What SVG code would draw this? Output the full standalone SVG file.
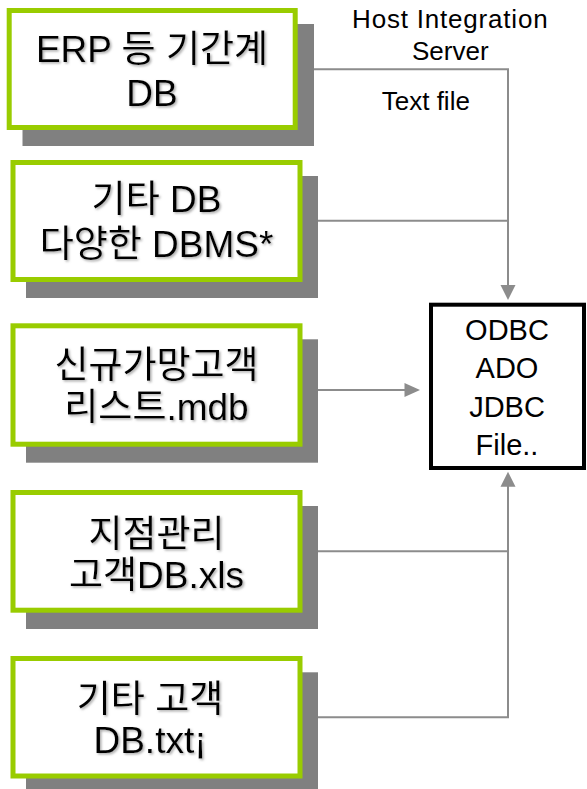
<svg xmlns="http://www.w3.org/2000/svg" width="587" height="789" viewBox="0 0 587 789">
<style>
.shadow{fill:#808080}
.box{fill:#fff;stroke:#99cc00;stroke-width:5}
.bt{font-family:"Liberation Sans","Noto Sans CJK KR",sans-serif;font-size:37px;fill:#000;text-anchor:middle;filter:url(#ts)}
.lbl{font-family:"Liberation Sans","Noto Sans CJK KR",sans-serif;font-size:26px;fill:#000;text-anchor:middle}
.odbc{font-family:"Liberation Sans",sans-serif;font-size:29px;fill:#000;text-anchor:middle}
.conn{fill:none;stroke:#8c8c8c;stroke-width:2}
.ah{fill:#8c8c8c}
</style>
<defs>
<filter id="ts" x="-10%" y="-20%" width="120%" height="140%">
<feDropShadow dx="1.5" dy="1.5" stdDeviation="0.8" flood-color="#888" flood-opacity="0.7"/>
</filter>
</defs>
<rect width="587" height="789" fill="#fff"/>
<g id="connectors">
<polyline class="conn" points="300,69.3 508,69.3 508,288"/>
<line class="conn" x1="300" y1="220.7" x2="508" y2="220.7"/>
<line class="conn" x1="300" y1="390" x2="408" y2="390"/>
<polyline class="conn" points="300,551.3 508,551.3"/>
<polyline class="conn" points="300,717.3 508,717.3 508,484"/>
<polygon class="ah" points="500.5,285 515.5,285 508,300"/>
<polygon class="ah" points="404.5,383 404.5,397 420,390"/>
<polygon class="ah" points="500.5,486.7 515.5,486.7 508,471.7"/>
</g>
<g id="node-erp">
<rect class="shadow" x="22.5" y="24" width="291.5" height="122"/>
<rect class="box" x="9.2" y="10.5" width="286" height="117"/>
<text class="bt" x="152" y="61.7">ERP 등 기간계</text>
<text class="bt" x="152" y="106">DB</text>
</g>
<g id="node-etc-db">
<rect class="shadow" x="26" y="176" width="292" height="122"/>
<rect class="box" x="13" y="162.5" width="287" height="117"/>
<text class="bt" x="156.5" y="211.7">기타 DB</text>
<text class="bt" x="156.5" y="256.7">다양한 DBMS*</text>
</g>
<g id="node-mdb">
<rect class="shadow" x="26" y="339.3" width="292" height="123.4"/>
<rect class="box" x="13" y="325.8" width="287" height="118.4"/>
<text class="bt" x="156.5" y="378">신규가망고객</text>
<text class="bt" x="156.5" y="420">리스트.mdb</text>
</g>
<g id="node-xls">
<rect class="shadow" x="26" y="506" width="292" height="123"/>
<rect class="box" x="13" y="492.5" width="287" height="117.7"/>
<text class="bt" x="156.5" y="546.7">지점관리</text>
<text class="bt" x="156.5" y="588.3">고객DB.xls</text>
</g>
<g id="node-txt">
<rect class="shadow" x="26" y="672.3" width="292" height="122"/>
<rect class="box" x="13" y="658.5" width="287" height="117.5"/>
<text class="bt" x="150" y="711.7">기타 고객</text>
<text class="bt" x="150" y="753.3">DB.txt¡</text>
</g>
<g id="node-odbc">
<rect x="431" y="304.7" width="153" height="163.3" fill="#fff" stroke="#000" stroke-width="4"/>
<text class="odbc" x="507" y="340">ODBC</text>
<text class="odbc" x="507" y="378.3">ADO</text>
<text class="odbc" x="507" y="416.7">JDBC</text>
<text class="odbc" x="507" y="455">File..</text>
</g>
<g id="labels">
<text class="lbl" x="450.3" y="28" letter-spacing="0.8">Host Integration</text>
<text class="lbl" x="450.3" y="60">Server</text>
<text class="lbl" x="425.8" y="110">Text file</text>
</g>
</svg>
